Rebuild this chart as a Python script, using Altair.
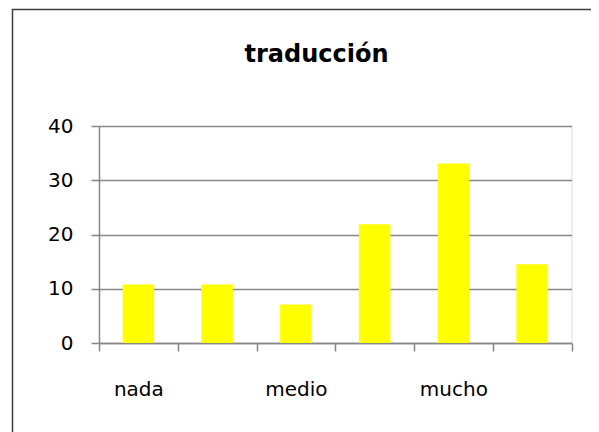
import altair as alt
import pandas as pd

# ---- data ----
categories = ["1", "2", "3", "4", "5", "6"]
tick_labels = ["nada", "", "medio", "", "mucho", ""]
values = [10.8, 10.8, 7.1, 21.9, 33.1, 14.5]
y_ticks = [0, 10, 20, 30, 40]
title_text = "traducción"

df = pd.DataFrame({"cat": categories, "valor": values})

label_expr = " : ".join(
    f"datum.value == '{c}' ? '{l}'" for c, l in zip(categories, tick_labels)
) + " : ''"

GRAY = "#878787"
FONT = "DejaVu Sans"

bars = alt.Chart(df).mark_bar(color="#FFFF00", width=alt.RelativeBandSize(0.4)).encode(
    x=alt.X(
        "cat:N",
        sort=categories,
        title=None,
        scale=alt.Scale(paddingInner=0, paddingOuter=0),
        axis=alt.Axis(
            labelExpr=label_expr,
            labelAngle=0,
            tickBand="extent",
            labelBaseline="alphabetic",
            labelPadding=44,
            labelFont=FONT,
            labelFontSize=20,
            labelColor="#000000",
            tickSize=8,
            tickColor=GRAY,
            tickWidth=1.5,
            domainColor=GRAY,
            domainWidth=1.5,
            grid=False,
            labelOverlap=False,
        ),
    ),
    y=alt.Y(
        "valor:Q",
        title=None,
        scale=alt.Scale(domain=[0, 40], nice=False),
        axis=alt.Axis(
            values=y_ticks,
            labelFont=FONT,
            labelFontSize=20,
            labelColor="#000000",
            labelPadding=18,
            tickSize=8,
            tickColor=GRAY,
            tickWidth=1.5,
            domainColor=GRAY,
            domainWidth=1.5,
            grid=True,
            gridColor=GRAY,
            gridWidth=1.5,
        ),
    ),
)

border = alt.Chart(pd.DataFrame({"b": [0]})).mark_rect(
    fillOpacity=0, stroke="#3c3c3c", strokeWidth=1.5
).encode(
    x=alt.value(-86.5),
    x2=alt.value(700),
    y=alt.value(-116.5),
    y2=alt.value(500),
)

chart = alt.layer(bars, border).properties(
    width=472.5,
    height=217,
    autosize=alt.AutoSizeParams(type="none"),
    padding={"left": 91, "top": 118, "right": 19.5, "bottom": 89},
    title=alt.TitleParams(
        text=title_text,
        font=FONT,
        fontSize=24,
        fontWeight="bold",
        color="#000000",
        anchor="middle",
        frame="group",
        dx=-18.75,
        offset=-77.25,
        baseline="alphabetic",
    ),
).configure_view(stroke=None).configure(background="#ffffff")

chart.save("out.html", embed_options={"renderer": "svg", "actions": False})
